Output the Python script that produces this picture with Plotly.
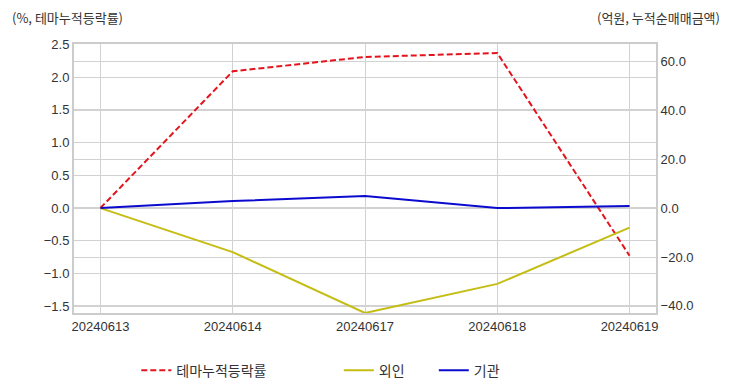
import plotly.graph_objects as go

dates = ["20240613", "20240614", "20240617", "20240618", "20240619"]
theme_rate = [0.0, 2.09, 2.31, 2.37, -0.73]
foreign = [0.0, -18.0, -42.9, -31.0, -8.0]
institution = [0.0, 2.9, 4.9, 0.0, 0.9]

left_ticks = [2.5, 2.0, 1.5, 1.0, 0.5, 0.0, -0.5, -1.0, -1.5]
right_ticks = [60, 40, 20, 0, -20, -40]

font_num = "Liberation Sans, Arial, Noto Sans CJK KR, sans-serif"
font_kr = "Noto Sans CJK KR, Liberation Sans, sans-serif"

fig = go.Figure()
fig.add_trace(go.Scatter(x=dates, y=theme_rate, name="테마누적등락률", mode="lines",
                         line=dict(color="#e3141c", width=2, dash="6px,3px"),
                         yaxis="y", legend="legend", showlegend=True))
fig.add_trace(go.Scatter(x=dates, y=foreign, name="외인", mode="lines",
                         line=dict(color="#c4bd14", width=2),
                         yaxis="y2", legend="legend2", showlegend=True))
fig.add_trace(go.Scatter(x=dates, y=institution, name="기관", mode="lines",
                         line=dict(color="#0b0bd0", width=2),
                         yaxis="y2", legend="legend2", showlegend=True))

axis_common = dict(showgrid=True, gridcolor="#d2d2d2", gridwidth=1,
                   zeroline=False, showline=True, linecolor="#cccccc", linewidth=2,
                   ticks="", tickfont=dict(family=font_num, size=13, color="#333333"))

fig.update_layout(
    width=716, height=376,
    showlegend=True,
    margin=dict(l=66, r=68, t=36, b=71, autoexpand=False),
    paper_bgcolor="white", plot_bgcolor="white",
    xaxis=dict(type="category", range=[-0.2, 4.2], **axis_common, mirror=True),
    yaxis=dict(range=[-1.606, 2.508], tickvals=left_ticks, tickformat=".1f",
               **axis_common, mirror=True),
    yaxis2=dict(range=[-42.9, 67.1], tickvals=right_ticks, tickformat=".1f",
                overlaying="y", side="right", **axis_common),
    legend=dict(orientation="h", x=0.107, y=-0.155, xanchor="left", yanchor="top",
                font=dict(family=font_kr, size=14, color="#333333"),
                bgcolor="rgba(0,0,0,0)", visible=True),
    legend2=dict(orientation="h", x=0.455, y=-0.155, xanchor="left", yanchor="top",
                 font=dict(family=font_kr, size=14, color="#333333"),
                 bgcolor="rgba(0,0,0,0)", entrywidth=50, entrywidthmode="pixels",
                 visible=True),
    annotations=[
        dict(text="(%, 테마누적등락률)", xref="paper", yref="paper", x=-0.110, y=1.10,
             xanchor="left", yanchor="middle", showarrow=False,
             font=dict(family=font_kr, size=13, color="#333333")),
        dict(text="(억원, 누적순매매금액)", xref="paper", yref="paper", x=1.113, y=1.10,
             xanchor="right", yanchor="middle", showarrow=False,
             font=dict(family=font_kr, size=13, color="#333333")),
    ],
)

fig.write_html("out.html")
